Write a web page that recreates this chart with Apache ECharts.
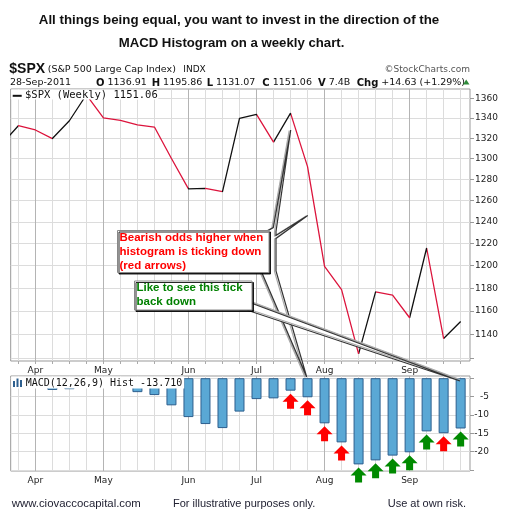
<!DOCTYPE html>
<html>
<head>
<meta charset="utf-8">
<script src="https://cdn.jsdelivr.net/npm/echarts@6/dist/echarts.min.js"></script>
<style>
  html, body { margin: 0; padding: 0; background: #fff; }
  #chart { width: 506px; height: 526px; }
</style>
</head>
<body>
<div id="chart"></div>
<script>
"use strict";

// weekly closes of $SPX, 25-Mar-2011 to 28-Sep-2011
var weeks = ["25-Mar", "1-Apr", "8-Apr", "15-Apr", "21-Apr", "29-Apr", "6-May", "13-May",
  "20-May", "27-May", "3-Jun", "10-Jun", "17-Jun", "24-Jun", "1-Jul", "8-Jul", "15-Jul",
  "22-Jul", "29-Jul", "5-Aug", "12-Aug", "19-Aug", "26-Aug", "2-Sep", "9-Sep", "16-Sep",
  "23-Sep", "28-Sep"];
var spx = [1313.8, 1332.41, 1328.17, 1319.68, 1337.38, 1363.61, 1340.2, 1337.77,
  1333.27, 1331.1, 1300.16, 1270.98, 1271.5, 1268.45, 1339.67, 1343.8, 1316.14,
  1345.02, 1292.28, 1199.38, 1178.81, 1123.53, 1176.8, 1173.97, 1154.23, 1216.01,
  1136.43, 1151.06];
// MACD(12,26,9) histogram
var hist = [-0.8, -1.5, -2.2, -3.2, -3.0, -1.9, -1.6, -2.2, -3.8, -4.6, -7.4, -10.6,
  -12.5, -13.6, -9.1, -5.7, -5.5, -3.4, -5.2, -12.3, -17.5, -23.5, -22.4, -21.1,
  -20.2, -14.5, -15.0, -13.71];

var monthIdx = [2, 6, 11, 15, 19, 24];
var monthNames = ["Apr", "May", "Jun", "Jul", "Aug", "Sep"];
var priceTicks = [1120, 1140, 1160, 1180, 1200, 1220, 1240, 1260, 1280, 1300, 1320, 1340, 1360];
var priceLabels = [1140, 1160, 1180, 1200, 1220, 1240, 1260, 1280, 1300, 1320, 1340, 1360];
var histTicks = [-25, -20, -15, -10, -5, 0];
var histLabels = [-20, -15, -10, -5];
var redArrows = [17, 18, 19, 20, 26];
var greenArrows = [21, 22, 23, 24, 25, 27];

var RED = "#dc143c";
var FONT = "DejaVu Sans";
var X_MIN = 0.55;
var X_MAX = 27.55;

var chartDom = document.getElementById("chart");
var myChart = echarts.init(chartDom);

var weekIdx = [];
for (var i = 1; i < weeks.length; i++) weekIdx.push(i);

// month starts get a darker grid line
var vLineColors = weekIdx.map(function (w) {
  return monthIdx.indexOf(w) >= 0 ? "#b4b4b4" : "#dcdcdc";
});

// colour each segment: red when the close fell, black when it rose
var pieces = [];
for (var k = 0; k < spx.length - 1; k++) {
  pieces.push({ gte: k, lt: k + 1, color: spx[k + 1] < spx[k] ? RED : "#111" });
}

function weekAxis(grid) {
  return {
    type: "value",
    gridIndex: grid,
    min: X_MIN,
    max: X_MAX,
    axisLine: { show: false },
    axisTick: { show: true, customValues: weekIdx, length: 3, lineStyle: { color: "#aaa" } },
    splitLine: { show: true, lineStyle: { color: vLineColors, width: 1 } },
    axisLabel: {
      customValues: monthIdx,
      formatter: function (v) {
        return monthNames[monthIdx.indexOf(Math.round(v))];
      },
      fontFamily: FONT,
      fontSize: 9,
      color: "#222",
      margin: 5,
    },
  };
}

var arrowPath = "path://M8,0 L16,8 L11.5,8 L11.5,15 L4.5,15 L4.5,8 L0,8 Z";

function arrows(list, color) {
  return {
    type: "scatter",
    xAxisIndex: 1,
    yAxisIndex: 1,
    symbol: arrowPath,
    symbolSize: [16, 15],
    symbolOffset: [0, 10.5],
    clip: false,
    z: 5,
    itemStyle: { color: color, opacity: 1 },
    data: list.map(function (i) {
      return [i, hist[i]];
    }),
  };
}

function txt(x, y, text, font, fill, align, extra) {
  var el = {
    type: "text",
    x: x,
    y: y,
    z: 100,
    style: {
      text: text,
      font: font,
      fill: fill,
      align: align || "left",
      textAlign: align || "left",
      verticalAlign: "middle",
      textVerticalAlign: "middle",
    },
  };
  if (extra) {
    for (var key in extra) el.style[key] = extra[key];
  }
  return el;
}

var bold = { rich: { b: { font: "bold 10px 'DejaVu Sans'", fill: "#111" } } };
var lastClose = spx[spx.length - 1].toFixed(2);
var lastHist = hist[hist.length - 1].toFixed(3);

var option = {
  animation: false,
  backgroundColor: "#fff",
  grid: [
    { left: 10.7, right: 36, top: 89, height: 272, show: true, borderColor: "#999", borderWidth: 1 },
    { left: 10.7, right: 36, top: 376, height: 95, show: true, borderColor: "#999", borderWidth: 1 },
  ],
  xAxis: [weekAxis(0), weekAxis(1)],
  yAxis: [
    {
      type: "log",
      logBase: 10,
      gridIndex: 0,
      position: "right",
      min: 1117.5,
      max: 1369.5,
      axisLine: { show: false },
      axisTick: { show: true, customValues: priceTicks, length: 4, lineStyle: { color: "#999" } },
      splitLine: { show: true, lineStyle: { color: "#dcdcdc" } },
      axisLabel: {
        customValues: priceLabels,
        formatter: function (v) {
          return String(Math.round(v));
        },
        fontFamily: FONT,
        fontSize: 9,
        color: "#222",
        margin: 5,
      },
    },
    {
      type: "value",
      gridIndex: 1,
      position: "right",
      min: -25.3,
      max: 0.6,
      axisLine: { show: false },
      axisTick: { show: true, customValues: histTicks, length: 4, lineStyle: { color: "#999" } },
      splitLine: { show: true, lineStyle: { color: "#dcdcdc" } },
      axisLabel: {
        customValues: histLabels,
        formatter: function (v) {
          return String(Math.round(v));
        },
        fontFamily: FONT,
        fontSize: 9,
        color: "#222",
        align: "right",
        margin: 19,
      },
    },
  ],
  visualMap: [
    {
      type: "piecewise",
      show: false,
      seriesIndex: 0,
      dimension: 0,
      pieces: pieces,
      outOfRange: { color: "#111" },
    },
  ],
  series: [
    {
      name: "$SPX",
      type: "line",
      xAxisIndex: 0,
      yAxisIndex: 0,
      showSymbol: false,
      symbol: "none",
      z: 3,
      lineStyle: { width: 1.3 },
      data: spx.map(function (v, i) {
        return [i, v];
      }),
    },
    {
      name: "Hist",
      type: "bar",
      xAxisIndex: 1,
      yAxisIndex: 1,
      barWidth: 10,
      clip: true,
      z: 3,
      itemStyle: { color: "#5aa8d5", borderColor: "#2d5f8e", borderWidth: 1 },
      // weeks left of the visible window are not drawn
      data: hist.map(function (v, i) {
        return i < X_MIN ? "-" : [i, v];
      }),
    },
    arrows(redArrows, "#ff0000"),
    arrows(greenArrows, "#008a00"),
  ],
  graphic: [
    // title
    txt(239, 20, "All things being equal, you want to invest in the direction of the",
      "bold 13.3px 'Liberation Sans'", "#111", "center"),
    txt(231.5, 43, "MACD Histogram on a weekly chart.", "bold 13.2px 'Liberation Sans'", "#111", "center"),
    // header
    txt(9.3, 69.5, "$SPX", "bold 14px 'Liberation Sans'", "#111"),
    txt(47.7, 69.5, "(S&P 500 Large Cap Index)", "9.5px 'DejaVu Sans'", "#111"),
    txt(183.3, 69.5, "INDX", "9px 'DejaVu Sans'", "#111"),
    txt(470, 69.5, "\u00a9StockCharts.com", "9px 'DejaVu Sans'", "#555", "right"),
    txt(10, 83, "28-Sep-2011", "9.5px 'DejaVu Sans'", "#111"),
    txt(96, 83, "{b|O} 1136.91", "9.5px 'DejaVu Sans'", "#111", "left", bold),
    txt(151.7, 83, "{b|H} 1195.86", "9.5px 'DejaVu Sans'", "#111", "left", bold),
    txt(206.7, 83, "{b|L} 1131.07", "9.5px 'DejaVu Sans'", "#111", "left", bold),
    txt(262.3, 83, "{b|C} 1151.06", "9.5px 'DejaVu Sans'", "#111", "left", bold),
    txt(318, 83, "{b|V} 7.4B", "9.5px 'DejaVu Sans'", "#111", "left", bold),
    txt(356.7, 83, "{b|Chg} +14.63 (+1.29%)", "9.5px 'DejaVu Sans'", "#111", "left", bold),
    {
      type: "polygon",
      z: 100,
      shape: { points: [[463, 84.5], [469.5, 84.5], [466.2, 79.5]] },
      style: { fill: "#2e8b3a" },
    },
    // price legend
    { type: "rect", z: 50, shape: { x: 11.2, y: 89.5, width: 147, height: 10 }, style: { fill: "#fff" } },
    { type: "rect", z: 100, shape: { x: 12.7, y: 94.8, width: 9, height: 2 }, style: { fill: "#111" } },
    txt(25, 95.2, "$SPX (Weekly) " + lastClose, "10.5px 'DejaVu Sans Mono'", "#111"),
    // macd legend
    { type: "rect", z: 50, shape: { x: 11.2, y: 376.5, width: 173, height: 12 }, style: { fill: "#fff" } },
    { type: "rect", z: 100, shape: { x: 13, y: 381, width: 2, height: 6 }, style: { fill: "#2d5f8e" } },
    { type: "rect", z: 100, shape: { x: 16.5, y: 378.5, width: 2, height: 8.5 }, style: { fill: "#2d5f8e" } },
    { type: "rect", z: 100, shape: { x: 20, y: 380, width: 2, height: 7 }, style: { fill: "#2d5f8e" } },
    txt(25.7, 383.3, "MACD(12,26,9) Hist " + lastHist, "10px 'DejaVu Sans Mono'", "#111"),
    // red callout
    {
      type: "polygon",
      z: 60,
      shape: {
        points: [[262, 234], [273.3, 227.5], [290.7, 130], [276, 231.5], [276, 235.5],
          [307.7, 215.5], [276, 238.5], [276, 271], [306.7, 377], [262, 273]],
      },
      style: { fill: "#fff", stroke: "#333", lineWidth: 1.2, shadowColor: "#aaa", shadowOffsetX: -1.5, shadowOffsetY: 0.5 },
    },
    {
      type: "rect",
      z: 61,
      shape: { x: 117.5, y: 230.5, width: 151.5, height: 42 },
      style: { fill: "#fff", stroke: "#888", lineWidth: 1, shadowColor: "rgba(0,0,0,0.85)", shadowOffsetX: 1.5, shadowOffsetY: 1.5 },
    },
    {
      type: "text",
      z: 100,
      x: 119.5,
      y: 230.5,
      style: {
        text: "Bearish odds higher when\nhistogram is ticking down\n(red arrows)",
        font: "bold 11.5px 'Liberation Sans'",
        fill: "#ff0000",
        lineHeight: 14,
      },
    },
    // green callout
    {
      type: "polygon",
      z: 60,
      shape: { points: [[240, 303.3], [251.7, 303.3], [460, 381], [246.7, 310], [240, 310]] },
      style: { fill: "#fff", stroke: "#333", lineWidth: 1.2, shadowColor: "#aaa", shadowOffsetX: 0, shadowOffsetY: -1.5 },
    },
    {
      type: "rect",
      z: 61,
      shape: { x: 134.5, y: 281, width: 117.5, height: 29 },
      style: { fill: "#fff", stroke: "#888", lineWidth: 1, shadowColor: "rgba(0,0,0,0.85)", shadowOffsetX: 1.5, shadowOffsetY: 1.5 },
    },
    {
      type: "text",
      z: 100,
      x: 136.5,
      y: 281,
      style: {
        text: "Like to see this tick\nback down",
        font: "bold 11.5px 'Liberation Sans'",
        fill: "#008000",
        lineHeight: 14,
      },
    },
    // footer
    txt(11.7, 503.5, "www.ciovaccocapital.com", "11.4px 'Liberation Sans'", "#223"),
    txt(173, 503.5, "For illustrative purposes only.", "11px 'Liberation Sans'", "#223"),
    txt(466, 504, "Use at own risk.", "11px 'Liberation Sans'", "#223", "right"),
  ],
};

option && myChart.setOption(option);
</script>
</body>
</html>
